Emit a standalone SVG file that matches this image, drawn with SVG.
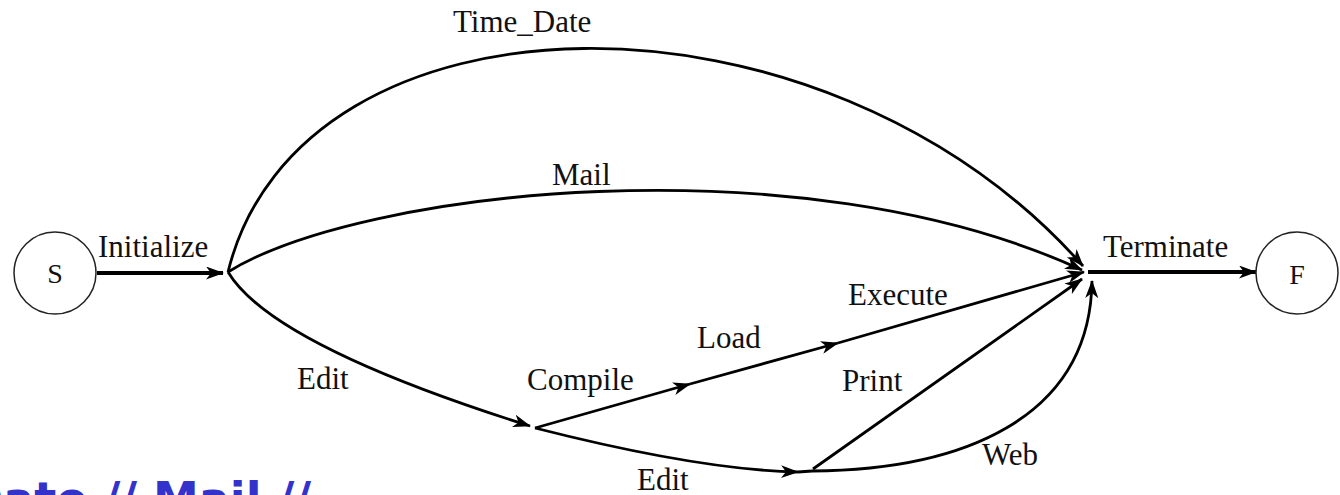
<svg xmlns="http://www.w3.org/2000/svg" width="1340" height="495" viewBox="0 0 1340 495">
<defs>
<marker id="arr" markerUnits="userSpaceOnUse" viewBox="0 0 18 13" refX="17" refY="6.5" markerWidth="18" markerHeight="13" orient="auto">
<path d="M0,0 L18,6.5 L0,13 L5,6.5 z" fill="#000"/>
</marker>
<style>
.lbl{font-family:"Liberation Serif","Times New Roman",serif;font-size:31px;fill:#111}
.st{font-family:"Liberation Serif","Times New Roman",serif;font-size:28px;fill:#111;text-anchor:middle}
.c{fill:none;stroke:#000;stroke-width:2.8}
.thick{fill:none;stroke:#000;stroke-width:3.8}
.a{marker-end:url(#arr)}
.node{fill:#fff;stroke:#222;stroke-width:1.5}
.blue{font-family:"DejaVu Sans",Verdana,sans-serif;font-weight:bold;font-size:46px;fill:#3333cc}
</style>
</defs>
<rect width="1340" height="495" fill="#fff"/>
<g id="connectors">
<path class="thick a" d="M97,273 L223,273"/>
<path class="thick a" d="M1088,272 L1256,272"/>
<path class="c a" d="M228,272 C300,-20 820,-30 1083,266"/>
<path class="c a" d="M228,272 C360,190 800,140 1082,270"/>
<path class="c a" d="M228,272 Q272,345 530,426"/>
<path class="c a" d="M535,428 L690,384"/>
<path class="c a" d="M690,384 L838,343"/>
<path class="c a" d="M838,343 L1084,272"/>
<path class="c a" d="M535,428 Q700,470 798,472"/>
<path class="c" d="M798,472 L812,471"/>
<path class="c a" d="M813,469 L1082,279"/>
<path class="c a" d="M812,471 C960,470 1090,420 1092,281"/>
</g>
<g id="node-S">
<circle class="node" cx="55" cy="273" r="41"/>
<text class="st" x="55" y="283">S</text>
</g>
<g id="node-F">
<circle class="node" cx="1297" cy="273" r="41"/>
<text class="st" x="1297" y="284">F</text>
</g>
<g id="labels">
<text class="lbl" x="98" y="257">Initialize</text>
<text class="lbl" x="1103" y="257">Terminate</text>
<text class="lbl" x="453" y="32">Time_Date</text>
<text class="lbl" x="552" y="185">Mail</text>
<text class="lbl" x="297" y="389">Edit</text>
<text class="lbl" x="527" y="390">Compile</text>
<text class="lbl" x="697" y="348">Load</text>
<text class="lbl" x="848" y="305">Execute</text>
<text class="lbl" x="842" y="391">Print</text>
<text class="lbl" x="982" y="465">Web</text>
<text class="lbl" x="637" y="490">Edit</text>
</g>
<text class="blue" x="-35" y="515">Date // Mail //</text>
</svg>
